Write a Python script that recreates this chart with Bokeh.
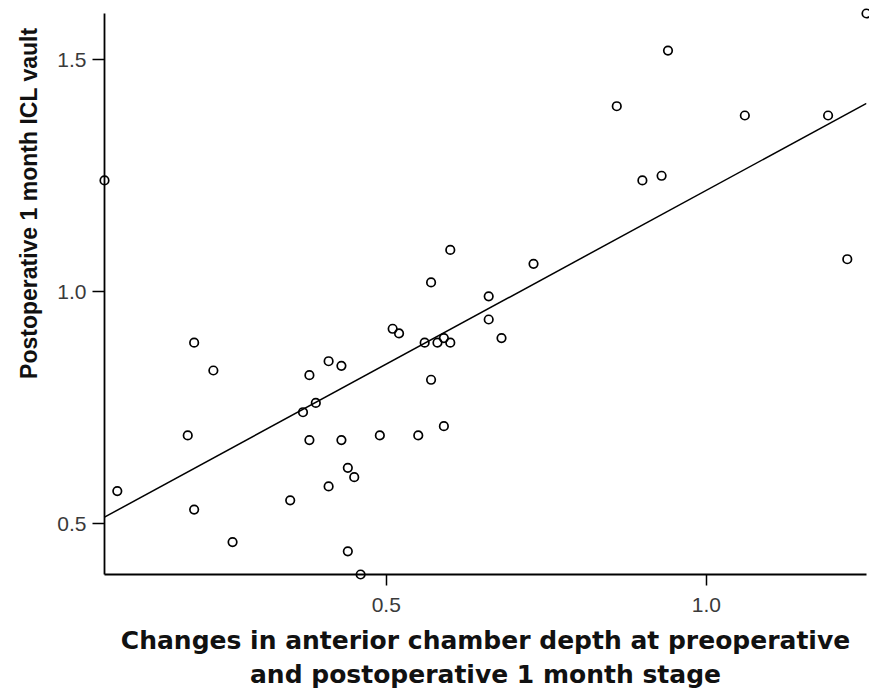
import numpy as np
from bokeh.plotting import figure
from bokeh.models import Range1d, FixedTicker, Title, ColumnDataSource, PrintfTickFormatter
from bokeh.embed import file_html
from bokeh.resources import INLINE

# Change in ACD (x) and postoperative 1-month ICL vault (y)
acd_change = [0.06, 0.08, 0.20, 0.23, 0.19, 0.20, 0.26, 0.38, 0.41, 0.43,
              0.39, 0.37, 0.38, 0.43, 0.49, 0.44, 0.45, 0.41, 0.35, 0.44,
              0.46, 0.51, 0.52, 0.56, 0.58, 0.59, 0.60, 0.57, 0.66, 0.68,
              0.66, 0.55, 0.59, 1.25, 0.94, 0.86, 1.06, 1.19, 0.90, 0.93,
              1.22, 0.60, 0.57, 0.73]
icl_vault = [1.24, 0.57, 0.89, 0.83, 0.69, 0.53, 0.46, 0.82, 0.85, 0.84,
             0.76, 0.74, 0.68, 0.68, 0.69, 0.62, 0.60, 0.58, 0.55, 0.44,
             0.39, 0.92, 0.91, 0.89, 0.89, 0.90, 0.89, 0.81, 0.94, 0.90,
             0.99, 0.69, 0.71, 1.60, 1.52, 1.40, 1.38, 1.38, 1.24, 1.25,
             1.07, 1.09, 1.02, 1.06]
x_ticks = [0.5, 1.0]
y_ticks = [0.5, 1.0, 1.5]
x_title = "Changes in anterior chamber depth at preoperative\nand postoperative 1 month stage"
y_title = "Postoperative 1 month ICL vault"

x_lo, x_hi = min(acd_change), max(acd_change)
y_lo, y_hi = min(icl_vault), max(icl_vault)

p = figure(width=869, height=692, output_backend="svg", toolbar_location=None,
           x_range=Range1d(x_lo, x_hi), y_range=Range1d(y_lo, y_hi),
           min_border_left=104, min_border_right=3, min_border_top=13,
           min_border_bottom=118)
p.outline_line_color = None
p.grid.visible = False
p.background_fill_color = "white"
p.border_fill_color = "white"

# regression fit line
slope, intercept = np.polyfit(acd_change, icl_vault, 1)
fx = [x_lo, x_hi]
fy = [intercept + slope * v for v in fx]
p.line(fx, fy, line_color="black", line_width=1.5)

src = ColumnDataSource(dict(x=acd_change, y=icl_vault))
p.scatter("x", "y", source=src, size=8.5, marker="circle", fill_color=None,
          line_color="black", line_width=1.7, level="overlay")

for ax in (p.xaxis[0], p.yaxis[0]):
    ax.axis_line_color = "black"
    ax.axis_line_width = 1.8
    ax.major_tick_line_color = "black"
    ax.major_tick_line_width = 1.5
    ax.major_tick_in = 0
    ax.minor_tick_line_color = None
    ax.major_label_text_font = "Liberation Sans"
    ax.major_label_text_font_size = "21px"
    ax.major_label_text_color = "#3a3a3a"
    ax.formatter = PrintfTickFormatter(format="%.1f")

p.xaxis.ticker = FixedTicker(ticks=x_ticks)
p.yaxis.ticker = FixedTicker(ticks=y_ticks)
p.xaxis.major_tick_out = 11
p.yaxis.major_tick_out = 12
p.xaxis.major_label_standoff = 12
p.yaxis.major_label_standoff = 6

p.xaxis.axis_label = x_title
p.xaxis.axis_label_text_font = "DejaVu Sans"
p.xaxis.axis_label_text_font_style = "bold"
p.xaxis.axis_label_text_font_size = "25px"
p.xaxis.axis_label_text_color = "#111111"
p.xaxis.axis_label_standoff = 11

# y axis title, placed toward the upper part as in the original
y_lab = Title(text=y_title, align="right", offset=14, standoff=26,
              text_font="Liberation Sans", text_font_style="bold",
              text_font_size="23px", text_color="#111111")
p.add_layout(y_lab, "left")

open("out.html", "w").write(file_html(p, INLINE))
